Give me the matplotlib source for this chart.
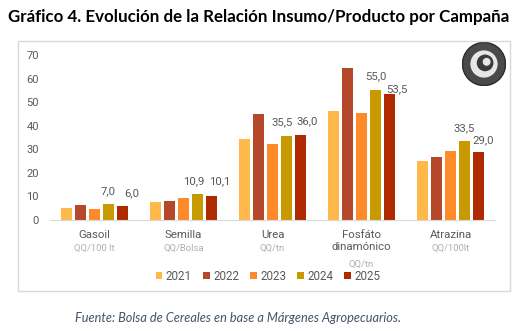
import matplotlib.pyplot as plt
from matplotlib.patches import Rectangle, Circle

categories = ["Gasoil", "Semilla", "Urea", "Fosfáto\ndinamónico", "Atrazina"]
units = ["QQ/100 lt", "QQ/Bolsa", "QQ/tn", "QQ/tn", "QQ/100lt"]
years = ["2021", "2022", "2023", "2024", "2025"]
v2021 = [5.0, 7.5, 34.4, 46.4, 24.9]
v2022 = [6.4, 8.1, 44.8, 64.4, 26.9]
v2023 = [4.7, 9.3, 32.4, 45.5, 29.4]
v2024 = [7.0, 10.9, 35.5, 55.0, 33.5]
v2025 = [6.0, 10.1, 36.0, 53.5, 29.0]
series = [v2021, v2022, v2023, v2024, v2025]
colors = ["#FFB84A", "#B5472A", "#FF8A2A", "#C99A00", "#B02A00"]

# label offsets (points) for the two labelled series, as placed in the source
lab_dx = {3: [0, -3, -3, 0, 0], 4: [6.5, 6, 4.5, 5.5, 3.5]}
lab_dy = {3: [9, 9.5, 10, 10, 9.5], 4: [9, 10.5, 10, 3.5, 8]}

W, H = 528, 331
fig = plt.figure(figsize=(W / 100, H / 100), dpi=100)
fig.patch.set_facecolor("white")
font = "Roboto"
grey = "#595959"

# outer chart frame
fig.patches.append(Rectangle((18 / W, 1 - 291 / H), 492 / W, 250 / H,
                             transform=fig.transFigure, fill=False,
                             edgecolor="#D9D9D9", lw=1))

ax = fig.add_axes([50 / W, 1 - 220 / H, 445 / W, 165 / H])
step = 0.157
width = 0.128
for i, (vals, c) in enumerate(zip(series, colors)):
    xs = [k + (i - 2) * step for k in range(len(categories))]
    ax.bar(xs, vals, width=width, color=c, label=years[i], zorder=2)
    if i in lab_dx:
        for k, (x, v) in enumerate(zip(xs, vals)):
            ax.annotate(f"{v:.1f}".replace(".", ","), (x, v),
                        xytext=(lab_dx[i][k], lab_dy[i][k]),
                        textcoords="offset points", ha="center", va="center",
                        fontsize=8.2, color=grey, family=font)

ax.set_xlim(-0.5, 4.5)
ax.set_ylim(0, 70)
ax.set_yticks(range(0, 71, 10))
ax.tick_params(axis="y", length=0, labelsize=8, labelcolor=grey, pad=8)
for t in ax.get_yticklabels():
    t.set_family(font)
ax.set_xticks([])
for s in ["top", "right", "left"]:
    ax.spines[s].set_visible(False)
ax.spines["bottom"].set_color("#D9D9D9")

# category labels with units
for k, (name, unit) in enumerate(zip(categories, units)):
    ax.annotate(name, (k, 0), xytext=(0, -7.5),
                textcoords="offset points", ha="center", va="top",
                fontsize=8.2, color=grey, family=font, linespacing=1.25)
    nl = name.count("\n")
    ax.annotate(unit, (k, 0), xytext=(0, -17.5 - nl * 11),
                textcoords="offset points", ha="center", va="top",
                fontsize=6.8, color="#B0B0B0", family=font)

leg = ax.legend(loc="center", bbox_to_anchor=(268 / W, 1 - 276 / H),
                bbox_transform=fig.transFigure, ncol=5, frameon=False,
                prop={"family": font, "size": 8.4}, handlelength=0.55,
                handleheight=0.55, handletextpad=0.3, columnspacing=0.95,
                labelcolor=grey)

# seal logo (approximation)
lax = fig.add_axes([462 / W, 1 - 86 / H, 44 / W, 44 / H])
lax.set_xlim(-1, 1)
lax.set_ylim(-1, 1)
lax.set_aspect("equal")
lax.axis("off")
lax.add_patch(Circle((0, 0), 0.98, facecolor="#4A4A4A", edgecolor="#2A2A2A"))
lax.add_patch(Circle((0, 0), 0.62, facecolor="#E6E6E6", edgecolor="none"))
lax.add_patch(Circle((0.05, 0.05), 0.38, facecolor="#3A3A3A", edgecolor="none"))
lax.add_patch(Circle((0.12, 0.1), 0.18, facecolor="#E6E6E6", edgecolor="none"))

fig.text(8 / W, 1 - 17 / H,
         "Gráfico 4. Evolución de la Relación Insumo/Producto por Campaña",
         fontsize=12.2, fontweight="bold", fontfamily="Lato",
         ha="left", va="center", color="black")
fig.text(75 / W, 1 - 318 / H,
         "Fuente: Bolsa de Cereales en base a Márgenes Agropecuarios.",
         fontsize=9.2, style="italic", fontfamily="Lato",
         ha="left", va="center", color="#44546A")

fig.savefig("out.png", dpi=100)
